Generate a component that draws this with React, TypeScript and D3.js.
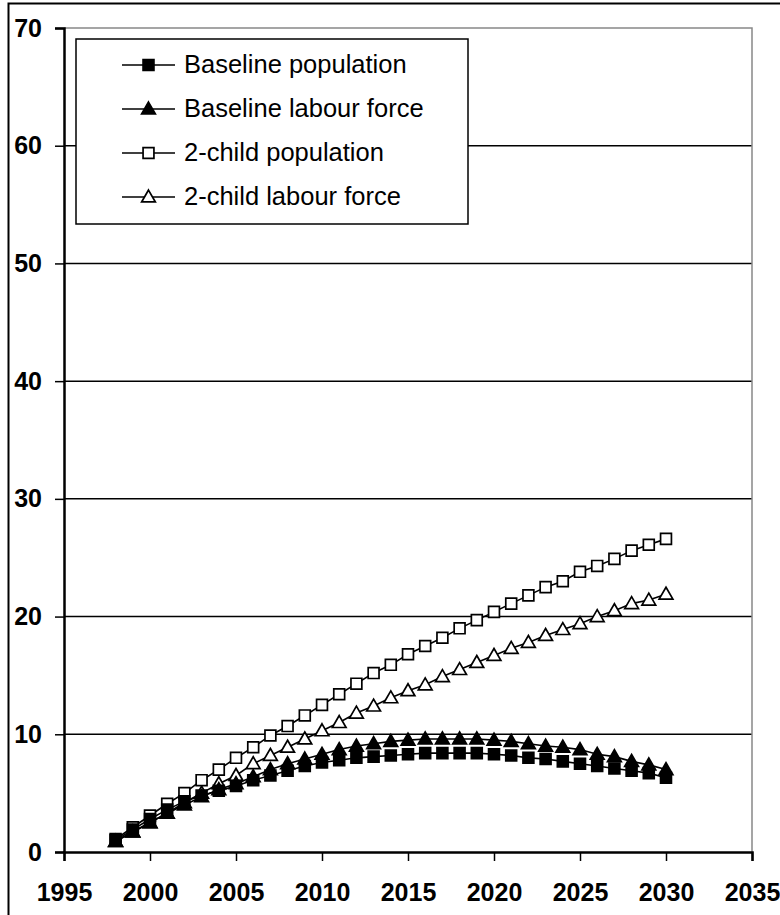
import React, { useEffect, useRef } from "react";
import * as d3 from "d3";

const years = d3.range(1998, 2031);

const baselinePopulation = [
  1.0, 1.9, 2.8, 3.6, 4.3, 4.8, 5.2, 5.6, 6.1, 6.5, 6.9, 7.3, 7.6, 7.8, 8.0, 8.1, 8.2,
  8.3, 8.4, 8.4, 8.4, 8.4, 8.3, 8.2, 8.0, 7.9, 7.7, 7.5, 7.3, 7.1, 6.9, 6.7, 6.3,
];
const baselineLabour = [
  0.9, 1.7, 2.5, 3.3, 4.0, 4.7, 5.3, 5.8, 6.4, 7.0, 7.5, 7.9, 8.3, 8.7, 9.0, 9.2, 9.4,
  9.5, 9.6, 9.6, 9.6, 9.6, 9.5, 9.4, 9.2, 9.0, 8.9, 8.7, 8.3, 8.1, 7.7, 7.4, 7.0,
];
const twoChildPopulation = [
  1.1, 2.1, 3.1, 4.1, 5.0, 6.1, 7.0, 8.0, 8.9, 9.9, 10.7, 11.6, 12.5, 13.4, 14.3, 15.2,
  15.9, 16.8, 17.5, 18.2, 19.0, 19.7, 20.4, 21.1, 21.8, 22.5, 23.0, 23.8, 24.3, 24.9,
  25.6, 26.1, 26.6,
];
const twoChildLabour = [
  0.9, 1.7, 2.5, 3.3, 4.2, 5.0, 5.8, 6.5, 7.5, 8.2, 8.9, 9.6, 10.3, 11.0, 11.8, 12.4,
  13.1, 13.7, 14.2, 14.9, 15.5, 16.1, 16.7, 17.3, 17.8, 18.4, 18.9, 19.4, 20.0, 20.5,
  21.1, 21.4, 21.9,
];

const seriesNames = [
  "Baseline population",
  "Baseline labour force",
  "2-child population",
  "2-child labour force",
];

const xTicks = [1995, 2000, 2005, 2010, 2015, 2020, 2025, 2030, 2035];
const yTicks = [0, 10, 20, 30, 40, 50, 60, 70];

const App: React.FC = () => {
  const svgRef = useRef<SVGSVGElement>(null);

  useEffect(() => {
    const width = 780;
    const height = 915;
    const plot = { left: 64, right: 752, top: 28, bottom: 852 };
    const font = "Arial, 'Liberation Sans', sans-serif";

    const svg = d3.select(svgRef.current).attr("width", width).attr("height", height);
    svg.selectAll("*").remove();

    const x = d3.scaleLinear().domain([1995, 2035]).range([plot.left, plot.right]);
    const y = d3.scaleLinear().domain([0, 70]).range([plot.bottom, plot.top]);

    svg.append("rect").attr("width", width).attr("height", height).attr("fill", "#fff");

    // outer chart frame (runs off the right/bottom of the picture)
    svg.append("rect")
      .attr("x", 8.5)
      .attr("y", 3.5)
      .attr("width", 800)
      .attr("height", 940)
      .attr("fill", "none")
      .attr("stroke", "#000")
      .attr("stroke-width", 2);

    // gridlines
    svg.append("g")
      .selectAll("line")
      .data(yTicks.filter((d) => d > 0 && d < 70))
      .join("line")
      .attr("x1", plot.left)
      .attr("x2", plot.right)
      .attr("y1", (d) => y(d))
      .attr("y2", (d) => y(d))
      .attr("stroke", "#000")
      .attr("stroke-width", 1.5);

    // plot area top/right border (grey)
    svg.append("path")
      .attr("d", `M${plot.left},${plot.top}H${plot.right}V${plot.bottom}`)
      .attr("fill", "none")
      .attr("stroke", "#888")
      .attr("stroke-width", 1.5);

    // y axis
    const yAxis = svg.append("g").attr("transform", `translate(${plot.left},0)`)
      .call(d3.axisLeft(y).tickValues(yTicks).tickSize(9).tickPadding(13).tickFormat(d3.format("d")));
    yAxis.select(".domain").attr("stroke", "#000").attr("stroke-width", 2.5);
    yAxis.selectAll(".tick line").attr("stroke", "#000").attr("stroke-width", 1.5);
    yAxis.selectAll("text")
      .attr("fill", "#000")
      .attr("font-family", font)
      .attr("font-weight", "bold")
      .attr("font-size", 25);

    // x axis
    const xAxis = svg.append("g").attr("transform", `translate(0,${plot.bottom})`)
      .call(d3.axisBottom(x).tickValues(xTicks).tickSize(9).tickPadding(22).tickFormat(d3.format("d")));
    xAxis.select(".domain").attr("stroke", "#000").attr("stroke-width", 2.5);
    xAxis.selectAll(".tick line").attr("stroke", "#000").attr("stroke-width", 1.5);
    xAxis.selectAll("text")
      .attr("fill", "#000")
      .attr("font-family", font)
      .attr("font-weight", "bold")
      .attr("font-size", 25);

    const series = [
      { values: baselinePopulation, shape: "square", filled: true },
      { values: baselineLabour, shape: "triangle", filled: true },
      { values: twoChildPopulation, shape: "square", filled: false },
      { values: twoChildLabour, shape: "triangle", filled: false },
    ];

    const squarePath = d3.symbol(d3.symbolSquare, 118)();
    const trianglePath = d3.symbol(d3.symbolTriangle, 82)();

    const line = d3.line<number>()
      .x((_, i) => x(years[i]))
      .y((d) => y(d));

    const drawMarker = (
      g: d3.Selection<SVGGElement, unknown, null, undefined>,
      shape: string,
      filled: boolean,
      cx: number,
      cy: number
    ) => {
      g.append("path")
        .attr("d", shape === "square" ? squarePath : trianglePath)
        .attr("transform", `translate(${cx},${cy + (shape === "triangle" ? 1 : 0)})`)
        .attr("fill", filled ? "#000" : "#fff")
        .attr("stroke", "#000")
        .attr("stroke-width", 1.7);
    };

    // draw series (back to front so filled ones sit on top)
    [3, 2, 1, 0].forEach((k) => {
      const s = series[k];
      const g = svg.append("g");
      g.append("path")
        .datum(s.values)
        .attr("d", line)
        .attr("fill", "none")
        .attr("stroke", "#000")
        .attr("stroke-width", 1.6);
      s.values.forEach((v, i) => drawMarker(g, s.shape, s.filled, x(years[i]), y(v)));
    });

    // legend
    const legend = svg.append("g");
    legend.append("rect")
      .attr("x", 76)
      .attr("y", 39)
      .attr("width", 392)
      .attr("height", 185)
      .attr("fill", "#fff")
      .attr("stroke", "#000")
      .attr("stroke-width", 1.5);

    seriesNames.forEach((name, i) => {
      const baseline = 73 + i * 44;
      const cy = baseline - 8;
      const row = legend.append("g");
      row.append("line")
        .attr("x1", 122)
        .attr("x2", 175)
        .attr("y1", cy)
        .attr("y2", cy)
        .attr("stroke", "#000")
        .attr("stroke-width", 1.6);
      drawMarker(row, series[i].shape, series[i].filled, 148.5, cy);
      row.append("text")
        .attr("x", 184)
        .attr("y", baseline)
        .attr("font-family", font)
        .attr("font-size", 25.5)
        .attr("fill", "#000")
        .text(name);
    });

    return () => {
      svg.selectAll("*").remove();
    };
  }, []);

  return (
    <svg ref={svgRef} style={{ position: "absolute", left: 0, top: 0, display: "block" }}></svg>
  );
};

export default App;
